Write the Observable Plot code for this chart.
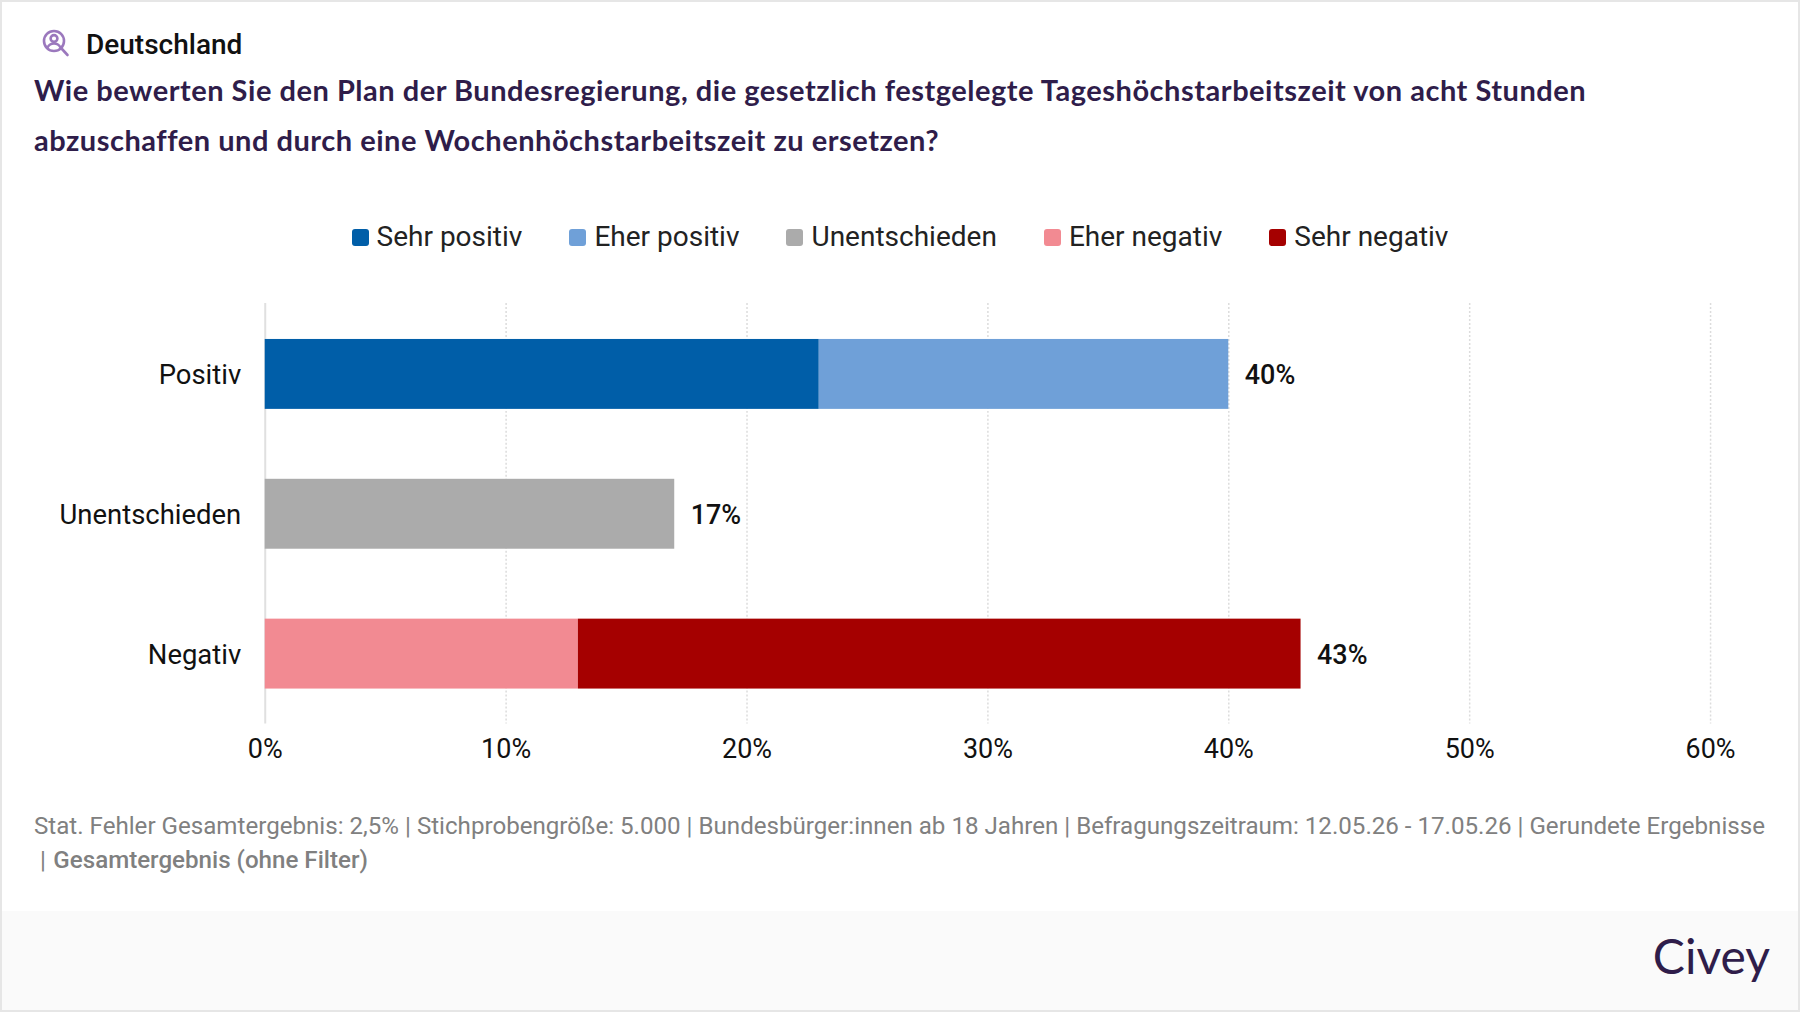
<!DOCTYPE html>
<html lang="de">
<head>
<meta charset="utf-8">
<script src="https://cdn.jsdelivr.net/npm/d3@7"></script>
<script src="https://cdn.jsdelivr.net/npm/@observablehq/plot@0.6"></script>
<style>
html,body{margin:0;padding:0;background:#fff}
#card{position:relative;width:1800px;height:1012px;box-sizing:border-box;border:2px solid #e6e6e6;overflow:hidden;font-family:Roboto,sans-serif;background:#fff}
#card>*{position:absolute}
#icon{left:39px;top:27px}
#region{left:84px;top:25px;font-size:28px;font-weight:500;line-height:36px;color:#111}
#title{left:32px;top:63px;width:1750px;font-family:Lato,sans-serif;font-weight:700;font-size:29px;letter-spacing:0.52px;line-height:49.5px;color:#2f1d4a}
#legend{left:0;right:0;top:217px;display:flex;justify-content:center;gap:47px;font-size:28px;line-height:36px;color:#222}
#legend span.item{display:flex;align-items:center;gap:8px}
#legend i{display:block;width:17px;height:17px;border-radius:3px}
#chart{left:-2px;top:301px}
#caption{left:32px;top:808px;width:1750px;font-size:24.13px;line-height:33.5px;color:#808080}
#caption b{font-weight:500;margin-left:1.5px}
#footer{left:0;right:0;top:909px;bottom:0;background:#fafafa}
#logo{right:28px;top:926px;font-family:Lato,sans-serif;font-weight:400;font-size:48px;line-height:56px;color:#2f1d4a}
</style>
</head>
<body>
<div id="card">
  <svg id="icon" width="30" height="30" viewBox="0 0 30 30" fill="none" stroke="#9b78bd" stroke-width="2.6" stroke-linecap="round">
    <circle cx="13" cy="12" r="10"/><circle cx="13" cy="9.5" r="3.4"/><path d="M6.5 18.5c1.5-3 3.8-4 6.5-4s5 1 6.5 4"/><path d="M20.5 19.5l6 6.5"/>
  </svg>
  <div id="region">Deutschland</div>
  <div id="title"></div>
  <div id="legend"></div>
  <div id="chart"></div>
  <div id="caption"></div>
  <div id="footer"></div>
  <div id="logo">Civey</div>
</div>
<script>
const titleLines = ["Wie bewerten Sie den Plan der Bundesregierung, die gesetzlich festgelegte Tageshöchstarbeitszeit von acht Stunden", "abzuschaffen und durch eine Wochenhöchstarbeitszeit zu ersetzen?"];
const answers = ["Sehr positiv", "Eher positiv", "Unentschieden", "Eher negativ", "Sehr negativ"];
const colors = ["#005ea8", "#6fa0d8", "#ababab", "#f28a92", "#a50000"];
const answerGroups = ["Positiv", "Positiv", "Unentschieden", "Negativ", "Negativ"];
const answerValues = [23, 17, 17, 13, 30];
const groups = ["Positiv", "Unentschieden", "Negativ"];
const totals = [40, 17, 43];
const xTicks = [0, 10, 20, 30, 40, 50, 60];
const captionText = "Stat. Fehler Gesamtergebnis: 2,5% | Stichprobengröße: 5.000 | Bundesbürger:innen ab 18 Jahren | Befragungszeitraum: 12.05.26 - 17.05.26 | Gerundete Ergebnisse";
const captionBold = "Gesamtergebnis (ohne Filter)";

document.getElementById("title").innerHTML = titleLines.join("<br>");
document.getElementById("caption").innerHTML = captionText + "<br>&nbsp;| <b>" + captionBold + "</b>";

const rows = answers.map((a, i) => ({answer: a, group: answerGroups[i], value: answerValues[i]}));
const totalRows = groups.map((g, i) => ({group: g, total: totals[i]}));
const pct = d => d + "%";

const plot = Plot.plot({
  width: 1800,
  height: 481,
  marginLeft: 265,
  marginRight: 88,
  marginTop: 0,
  marginBottom: 60,
  style: {fontFamily: "Roboto, sans-serif", background: "transparent", color: "#111", overflow: "visible"},
  x: {domain: [0, 60], ticks: xTicks, label: null},
  y: {domain: groups, label: null, paddingInner: 0.5, paddingOuter: 0.25, align: 0.5},
  color: {domain: answers, range: colors},
  marks: [
    Plot.ruleX(xTicks.slice(1), {stroke: "#dcdcdc", strokeWidth: 1.5, strokeDasharray: "2,2"}),
    Plot.ruleX([0], {stroke: "#e0e0e0", strokeWidth: 2}),
    Plot.barX(rows, Plot.stackX({order: null, x: "value", y: "group", fill: "answer"})),
    Plot.text(totalRows, {x: "total", y: "group", text: d => pct(d.total), textAnchor: "start", dx: 16, dy: 1, fontSize: 27, fontWeight: 500, fill: "#111"}),
    Plot.axisX({ticks: xTicks, tickFormat: pct, tickSize: 0, tickPadding: 15, fontSize: 27, label: null, fill: "#111"}),
    Plot.axisY({tickSize: 0, tickPadding: 24, dy: 1, fontSize: 27.5, label: null, fill: "#111"})
  ]
});
document.getElementById("chart").appendChild(plot);

const colorScale = plot.scale("color");
const legend = d3.select("#legend");
answers.forEach(a => {
  const item = legend.append("span").attr("class", "item");
  item.append("i").style("background", colorScale.apply(a));
  item.append("span").text(a);
});
</script>
</body>
</html>
